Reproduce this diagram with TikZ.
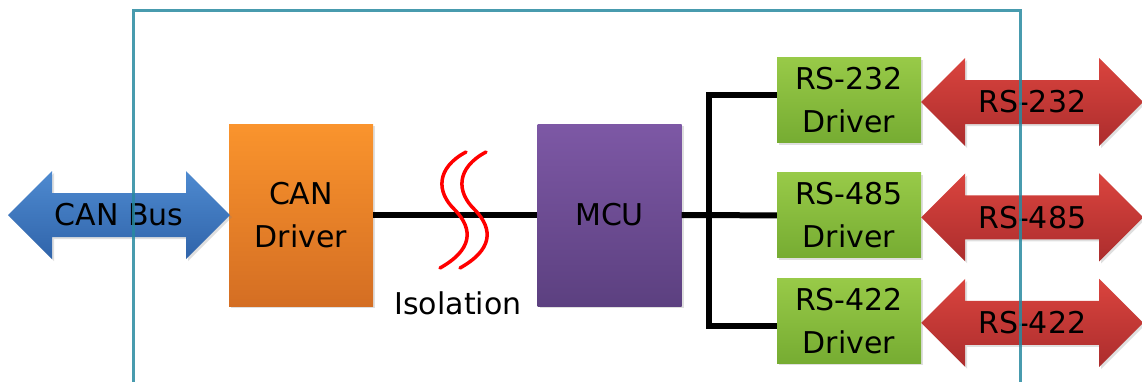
\documentclass[tikz,border=0pt]{standalone}
\usepackage{fontspec}
\setmainfont{DejaVu Sans}
\usepackage{tikz}
\usetikzlibrary{positioning,shadows,calc}
\definecolor{frm}{RGB}{40,138,160}
\definecolor{orgT}{RGB}{250,148,45}
\definecolor{orgB}{RGB}{212,110,35}
\definecolor{purT}{RGB}{125,88,165}
\definecolor{purB}{RGB}{92,64,128}
\definecolor{grnT}{RGB}{152,202,72}
\definecolor{grnB}{RGB}{118,172,50}
\definecolor{bluT}{RGB}{78,138,208}
\definecolor{bluB}{RGB}{48,100,170}
\definecolor{redT}{RGB}{218,68,62}
\definecolor{redB}{RGB}{172,45,45}
% fat double-headed arrow round a coordinate
\newcommand{\busarrow}[2]{%
  \path[#2,shift={(#1)}] (-111,0) -- (-67,-44) -- (-67,-22) -- (67,-22) -- (67,-44) -- (111,0)
    -- (67,44) -- (67,22) -- (-67,22) -- (-67,44) -- cycle;}

\begin{document}
\begin{tikzpicture}[x=1pt,y=-1pt,font=\fontsize{30}{43}\selectfont,node distance=30pt and 1pt,
  shd/.style={drop shadow={opacity=0.25,shadow xshift=2pt,shadow yshift=-2pt}},
  blk/.style={shd,minimum width=144pt,minimum height=182pt,align=center,inner sep=0pt},
  drv/.style={shd,top color=grnT,bottom color=grnB,minimum width=144pt,minimum height=85pt,align=center,inner sep=0pt},
  bluearr/.style={shd,top color=bluT,bottom color=bluB},
  redarr/.style={shd,top color=redT,bottom color=redB},
  wire/.style={line width=6pt},
  iso/.style={red,line width=3.5pt,line cap=round}]
  \useasboundingbox (0,0) rectangle (1142,381);
  % blocks
  \node[blk,top color=orgT,bottom color=orgB] (can) at (301,215) {CAN\\Driver};
  \node[blk,top color=purT,bottom color=purB] (mcu) at (609.5,215) {MCU};
  \node[drv] (rs232) at (849,100) {RS-232\\Driver};
  \node[drv,below=of rs232] (rs485) {RS-485\\Driver};
  \node[drv,below=20pt of rs485] (rs422) {RS-422\\Driver};
  % bus arrows
  \coordinate (cb) at (119,215);
  \coordinate (c232) at ($(rs232.east)+(111,2)$);
  \coordinate (c485) at ($(rs485.east)+(111,2)$);
  \coordinate (c422) at ($(rs422.east)+(111,2)$);
  \busarrow{cb}{bluearr}
  \busarrow{c232}{redarr}
  \busarrow{c485}{redarr}
  \busarrow{c422}{redarr}
  \node (canbus) at (cb) {CAN Bus};
  \node (p232) at (c232) {RS-232};
  \node (p485) at (c485) {RS-485};
  \node (p422) at (c422) {RS-422};
  % wiring
  \coordinate (split) at (709,215);
  \draw[wire] (can.east) -- (mcu.west);
  \draw[wire] (mcu.east) -- (rs485.west);
  \draw[wire] ([yshift=5pt]rs232.west) -| (split) |- ([yshift=-5pt]rs422.west);
  % isolation barrier
  \foreach \dx in {0,20}
    \draw[iso,xshift=\dx] (466,152) .. controls (436,168) and (436,192) .. (455,210)
      .. controls (474,230) and (472,250) .. (440,268);
  \node (isolbl) at (458,303) {Isolation};
  % frame
  \draw[frm,line width=3pt,opacity=0.85] (133.5,390) |- (1020,10) -- (1020,390);
\end{tikzpicture}
\end{document}
